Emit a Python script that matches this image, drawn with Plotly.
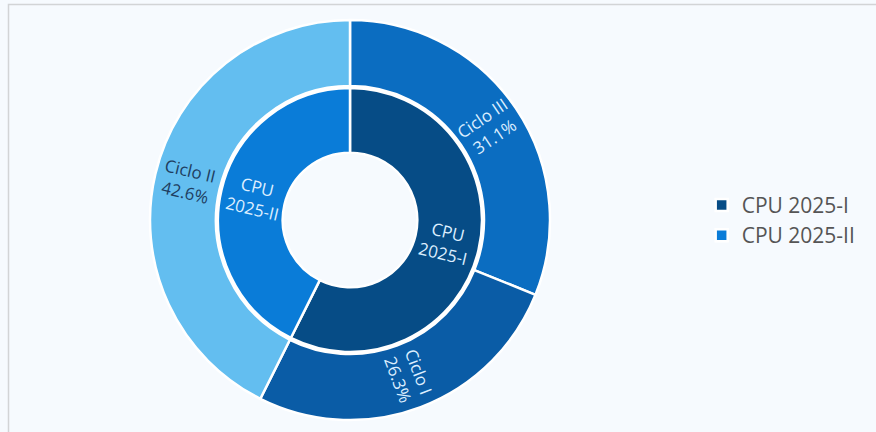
import math
import plotly.graph_objects as go

# Data
outer_labels = ["Ciclo III", "Ciclo I", "Ciclo II"]
outer_values = [31.1, 26.3, 42.6]
inner_labels = ["CPU 2025-I", "CPU 2025-II"]
inner_values = [57.4, 42.6]
inner_text = ["CPU<br>2025-I", "CPU<br>2025-II"]

outer_colors = ["#0B6DC1", "#0A5CA6", "#63BEF0"]
inner_colors = ["#064C86", "#0A7CD8"]
outer_text_colors = ["#DCEEFF", "#DCEEFF", "#1E3D60"]
inner_text_colors = ["#DCEEFF", "#DCEEFF"]

W, H = 876, 432
cx, cy = 350, 220
R_out, R_in = 200, 132
FONT = "Open Sans"

fig = go.Figure()

fig.add_trace(go.Pie(
    labels=outer_labels, values=outer_values,
    sort=False, direction="clockwise", rotation=0,
    hole=0.67,
    marker=dict(colors=outer_colors, line=dict(color="white", width=2.5)),
    textinfo="none",
    hoverinfo="label+percent",
    showlegend=False,
    domain=dict(x=[(cx - R_out) / W, (cx + R_out) / W],
                y=[(H - cy - R_out) / H, (H - cy + R_out) / H]),
))

fig.add_trace(go.Pie(
    labels=inner_labels, values=inner_values,
    sort=False, direction="clockwise", rotation=0,
    hole=0.51,
    marker=dict(colors=inner_colors, line=dict(color="white", width=2.5)),
    textinfo="none",
    hoverinfo="label+percent",
    showlegend=True,
    domain=dict(x=[(cx - R_in) / W, (cx + R_in) / W],
                y=[(H - cy - R_in) / H, (H - cy + R_in) / H]),
))


def radial_labels(values, texts, colors, radius):
    """Place slice labels radially, derived from the slice values."""
    total = sum(values)
    anns = []
    cum = 0.0
    for v, t, c in zip(values, texts, colors):
        mid = (cum + v / 2) / total * 360.0
        cum += v
        a = math.radians(mid)
        px = cx + radius * math.sin(a)
        py = cy - radius * math.cos(a)
        ang = mid - 90 if mid <= 180 else mid - 270
        anns.append(dict(
            x=px / W, y=1 - py / H, xref="paper", yref="paper",
            text=t, showarrow=False, textangle=ang,
            xanchor="center", yanchor="middle", align="center",
            font=dict(family=FONT, size=17, color=c),
        ))
    return anns


outer_texts = ["%s<br>%.1f%%" % (l, v / sum(outer_values) * 100)
               for l, v in zip(outer_labels, outer_values)]
annotations = (radial_labels(outer_values, outer_texts, outer_text_colors, 166)
               + radial_labels(inner_values, inner_text, inner_text_colors, 98))

fig.update_layout(
    width=W, height=H,
    margin=dict(l=0, r=0, t=0, b=0),
    paper_bgcolor="#F6FAFE",
    plot_bgcolor="#F6FAFE",
    font=dict(family=FONT, color="#555555"),
    legend=dict(x=0.801, y=0.49, xanchor="left", yanchor="middle",
                font=dict(size=21, color="#555555"),
                bgcolor="rgba(0,0,0,0)"),
    annotations=annotations,
    shapes=[dict(type="rect", xref="paper", yref="paper",
                 x0=8.5 / W, x1=1.2, y0=-0.2, y1=1 - 4.5 / H,
                 line=dict(color="#D2D4D6", width=1.5), layer="below")],
)

fig.write_html("out.html",
               config={"displayModeBar": False},
               post_script="document.body.style.margin='0';document.body.style.overflow='hidden';")
